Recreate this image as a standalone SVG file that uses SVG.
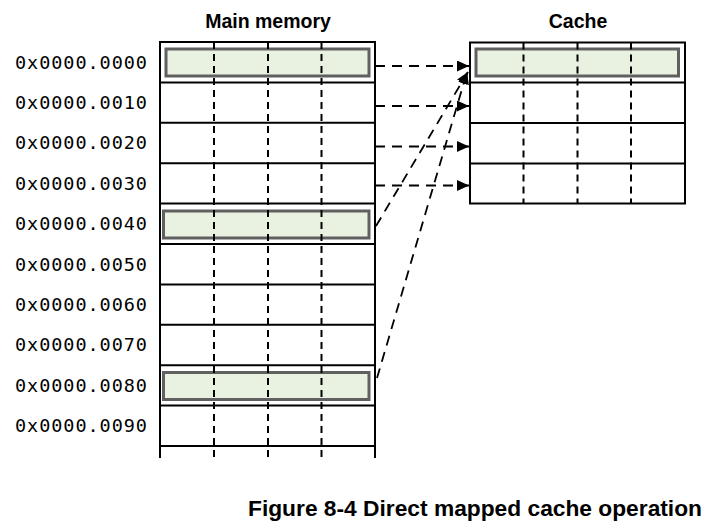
<svg xmlns="http://www.w3.org/2000/svg" width="714" height="527" viewBox="0 0 714 527">
<defs>
<style>
.grid{stroke:#000;stroke-width:2;fill:none}
.vd{stroke:#000;stroke-width:2;stroke-dasharray:7,5;fill:none}
.hl{fill:#e9f1e0;stroke:#606060;stroke-width:3}
.conn{stroke:#000;stroke-width:1.8;stroke-dasharray:10,7;fill:none}
.addr{font-family:"DejaVu Sans Mono","Liberation Mono",monospace;font-size:18.5px;fill:#000}
.title{font-family:"Liberation Sans",Arial,sans-serif;font-weight:bold;font-size:19.5px;fill:#000;text-anchor:middle}
.cap{font-family:"Liberation Sans",Arial,sans-serif;font-weight:bold;font-size:22.5px;fill:#000}
</style>
<marker id="arr" viewBox="0 0 12 11" refX="12" refY="5.5" markerWidth="12" markerHeight="11" markerUnits="userSpaceOnUse" orient="auto">
<path d="M0,0 L12,5.5 L0,11 Z" fill="#000"/>
</marker>
</defs>
<rect width="714" height="527" fill="#fff"/>
<text class="title" x="268" y="28">Main memory</text>
<text class="title" x="578" y="28">Cache</text>
<g id="main-memory">
<rect class="hl" x="166" y="49" width="203" height="27"/>
<rect class="hl" x="163.5" y="211" width="205.5" height="27"/>
<rect class="hl" x="163.5" y="372.5" width="205.5" height="27"/>
<path class="grid" d="M160,458V42H375V458M160,82.4H375M160,122.8H375M160,163.2H375M160,203.6H375M160,244H375M160,284.4H375M160,324.8H375M160,365.2H375M160,405.6H375M160,446H375"/>
<path class="vd" d="M214,42V458M268,42V458M321.5,42V458"/>
</g>
<g id="addresses">
<text class="addr" x="15" y="68.5" textLength="132" lengthAdjust="spacing">0x0000.0000</text>
<text class="addr" x="15" y="108.9" textLength="132" lengthAdjust="spacing">0x0000.0010</text>
<text class="addr" x="15" y="149.3" textLength="132" lengthAdjust="spacing">0x0000.0020</text>
<text class="addr" x="15" y="189.7" textLength="132" lengthAdjust="spacing">0x0000.0030</text>
<text class="addr" x="15" y="230.1" textLength="132" lengthAdjust="spacing">0x0000.0040</text>
<text class="addr" x="15" y="270.5" textLength="132" lengthAdjust="spacing">0x0000.0050</text>
<text class="addr" x="15" y="310.9" textLength="132" lengthAdjust="spacing">0x0000.0060</text>
<text class="addr" x="15" y="351.3" textLength="132" lengthAdjust="spacing">0x0000.0070</text>
<text class="addr" x="15" y="391.7" textLength="132" lengthAdjust="spacing">0x0000.0080</text>
<text class="addr" x="15" y="432.1" textLength="132" lengthAdjust="spacing">0x0000.0090</text>
</g>
<g id="cache">
<rect class="hl" x="476" y="49" width="202.5" height="27"/>
<path class="grid" d="M470,42.5H685V203.5H470ZM470,82.5H685M470,123H685M470,163.5H685"/>
<path class="vd" d="M523.5,42.5V203.5M577.5,42.5V203.5M631,42.5V203.5"/>
</g>
<g id="connectors">
<path class="conn" d="M375,66H469" marker-end="url(#arr)"/>
<path class="conn" d="M375,106H469" marker-end="url(#arr)"/>
<path class="conn" d="M375,146.5H469" marker-end="url(#arr)"/>
<path class="conn" d="M375,185.5H469" marker-end="url(#arr)"/>
<path class="conn" d="M376,226L468,72" marker-end="url(#arr)"/>
<path class="conn" d="M377,378L467,72" marker-end="url(#arr)"/>
</g>
<text class="cap" x="248" y="516" textLength="454" lengthAdjust="spacingAndGlyphs">Figure 8-4 Direct mapped cache operation</text>
</svg>
